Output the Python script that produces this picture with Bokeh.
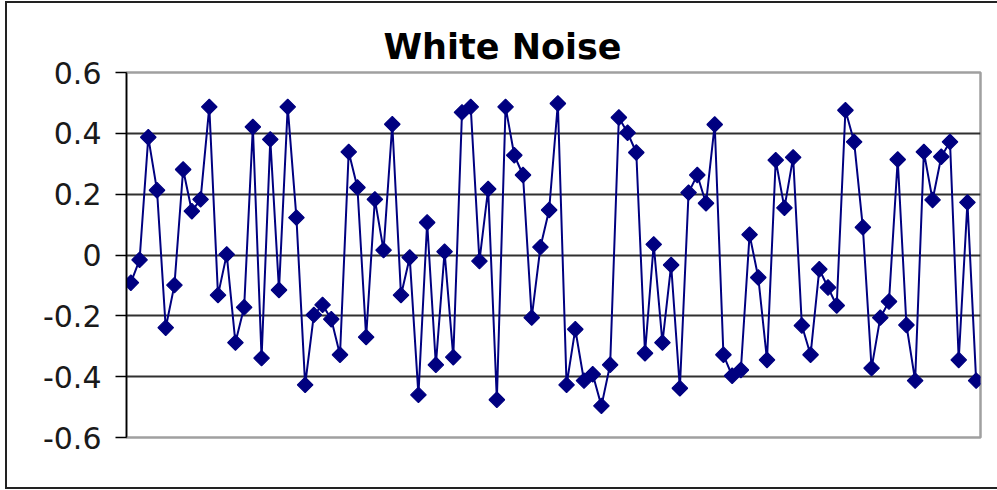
import numpy as np
from bokeh.plotting import figure
from bokeh.models import FixedTicker, InlineStyleSheet
from bokeh.embed import file_html
from bokeh.resources import INLINE

# White noise samples, one per time step
noise = [
    -0.091, -0.016, 0.387, 0.213, -0.239, -0.099, 0.281, 0.144, 0.183, 0.487,
    -0.132, 0.002, -0.288, -0.172, 0.421, -0.339, 0.380, -0.115, 0.487, 0.123,
    -0.427, -0.197, -0.164, -0.211, -0.328, 0.339, 0.222, -0.270, 0.183, 0.016,
    0.430, -0.132, -0.008, -0.460, 0.107, -0.361, 0.011, -0.336, 0.469, 0.487,
    -0.020, 0.217, -0.476, 0.487, 0.328, 0.263, -0.206, 0.026, 0.148, 0.498,
    -0.427, -0.244, -0.413, -0.392, -0.496, -0.361, 0.452, 0.402, 0.337, -0.323,
    0.035, -0.288, -0.033, -0.438, 0.205, 0.263, 0.170, 0.429, -0.328, -0.397,
    -0.378, 0.067, -0.074, -0.345, 0.312, 0.155, 0.321, -0.232, -0.328, -0.047,
    -0.107, -0.166, 0.476, 0.372, 0.091, -0.372, -0.206, -0.153, 0.314, -0.230,
    -0.413, 0.339, 0.181, 0.323, 0.372, -0.345, 0.173, -0.413,
]
steps = list(range(1, len(noise) + 1))

y_ticks = [-0.6, -0.4, -0.2, 0.0, 0.2, 0.4, 0.6]
y_tick_labels = ["-0.6", "-0.4", "-0.2", "0", "0.2", "0.4", "0.6"]
title_text = "White Noise"

p = figure(
    width=997, height=490,
    x_range=(0.5, len(noise) + 0.5), y_range=(-0.6, 0.6),
    output_backend="svg", toolbar_location=None,
    min_border_left=126, min_border_right=17,
    min_border_top=72, min_border_bottom=53,
    title=title_text,
)
p.background_fill_color = "white"
p.border_fill_color = "white"
p.outline_line_color = "#a0a0a0"
p.outline_line_width = 2.5

# Title: bold, centred over the whole chart rather than the plot area
p.title.text_font = "DejaVu Sans"
p.title.text_font_style = "bold"
p.title.text_font_size = "35px"
p.title.text_color = "black"
p.title.align = "left"
p.title.offset = 257
p.title.standoff = 11

# Horizontal gridlines only
p.xgrid.visible = False
p.ygrid.grid_line_color = "#303030"
p.ygrid.grid_line_width = 1.8

# No category labels along the bottom
p.xaxis.visible = False

yaxis = p.yaxis[0]
yaxis.ticker = FixedTicker(ticks=y_ticks, minor_ticks=[])
yaxis.major_label_overrides = dict(zip(y_ticks, y_tick_labels))
yaxis.axis_line_color = "black"
yaxis.axis_line_width = 1.5
yaxis.major_tick_line_color = "black"
yaxis.major_tick_line_width = 1.5
yaxis.major_tick_out = 11
yaxis.major_tick_in = 0
yaxis.minor_tick_line_color = None
yaxis.major_label_standoff = 14
yaxis.major_label_text_font = "DejaVu Sans"
yaxis.major_label_text_font_size = "30px"
yaxis.major_label_text_color = "#1a1a1a"

# Series: navy line with diamond markers
p.line(steps, noise, line_color="#000080", line_width=2)
p.scatter(steps, noise, marker="square", angle=np.pi / 4, size=11,
          fill_color="#000080", line_color="#000080", line_width=1.2)

# Outer chart border drawn over the canvas
p.stylesheets = [InlineStyleSheet(css="""
:host { position: relative; }
:host::after {
    content: "";
    position: absolute;
    left: 5px; top: 1px;
    width: 1010px; height: 484px;
    border: 2px solid #222222;
    pointer-events: none;
}
""")]

open("out.html", "w").write(file_html(p, INLINE))
